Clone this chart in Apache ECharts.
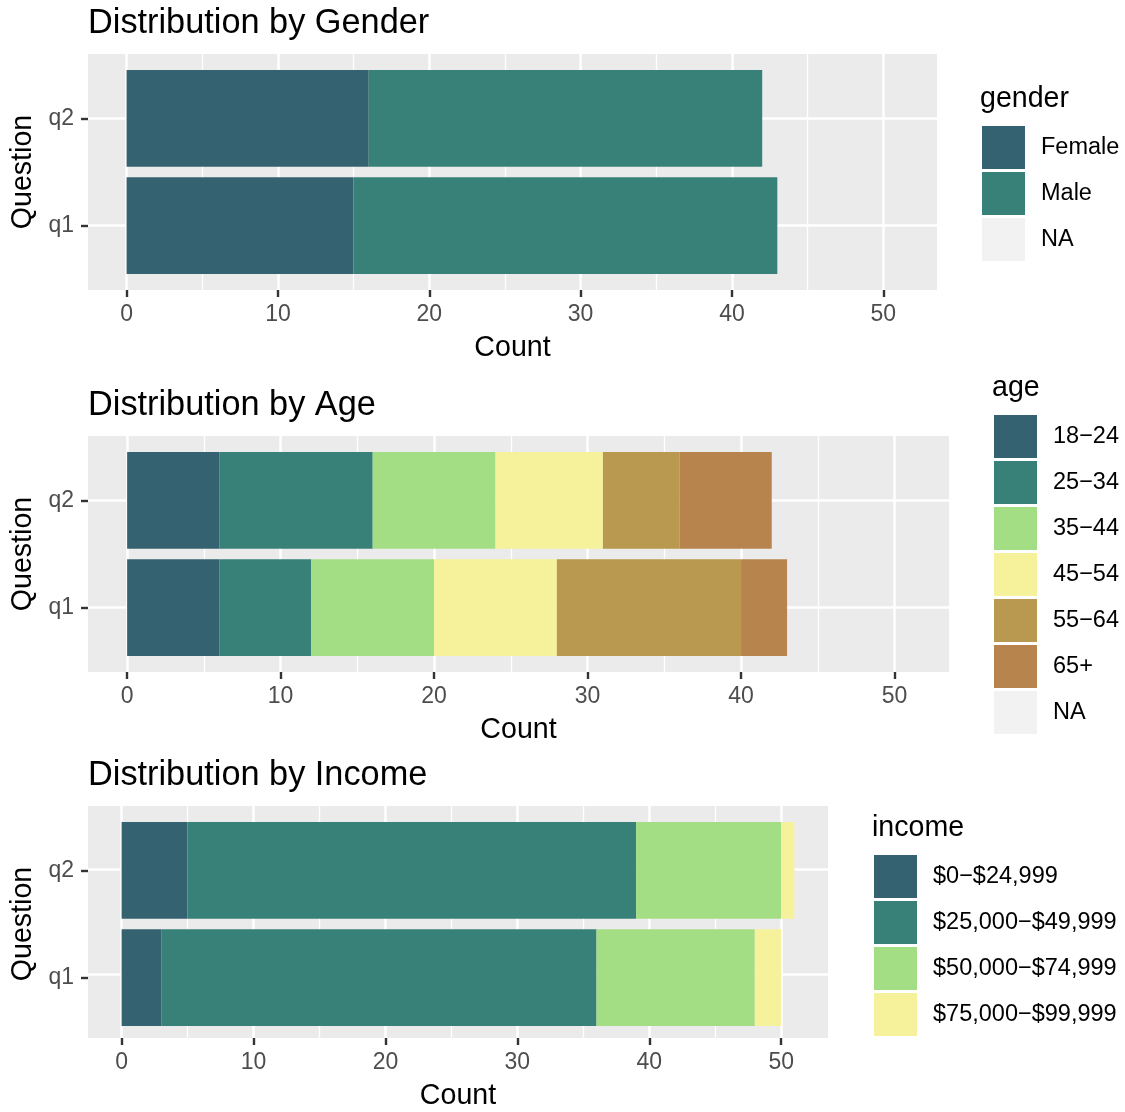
<!DOCTYPE html>
<html><head><meta charset="utf-8">
<script src="https://cdn.jsdelivr.net/npm/echarts@6/dist/echarts.min.js"></script>
<style>html,body{margin:0;padding:0;background:#fff}#c{width:1125px;height:1112px}</style>
</head><body><div id="c"></div>
<script>
// ---- data ----
const questions = ['q1', 'q2'];
const tickValues = [0, 10, 20, 30, 40, 50];
const minorValues = [5, 15, 25, 35, 45];

const genderCats = ['Female', 'Male'];
const genderFemale = [15, 16];
const genderMale = [28, 26];

const ageCats = ['18−24', '25−34', '35−44', '45−54', '55−64', '65+'];
const age18_24 = [6, 6];
const age25_34 = [6, 10];
const age35_44 = [8, 8];
const age45_54 = [8, 7];
const age55_64 = [12, 5];
const age65plus = [3, 6];

const incomeCats = ['$0−$24,999', '$25,000−$49,999', '$50,000−$74,999', '$75,000−$99,999'];
const income0_25 = [3, 5];
const income25_50 = [33, 34];
const income50_75 = [12, 11];
const income75_100 = [2, 1];

const panelTitles = ['Distribution by Gender', 'Distribution by Age', 'Distribution by Income'];
const legendTitles = ['gender', 'age', 'income'];

// ---- styling ----
const FONT = '"Liberation Sans", Arial, Helvetica, sans-serif';
const palette = ['#346270', '#388179', '#A4DE84', '#F6F29B', '#B9994F', '#B8844E'];
const naColor = '#F2F2F2';

const panels = [
  { cats: genderCats, vals: [genderFemale, genderMale], showNA: true,
    grid: { left: 88, top: 54, width: 849, height: 236 },
    legend: { left: 982, top: 126 }, legendTitle: { left: 980, top: 85 } },
  { cats: ageCats, vals: [age18_24, age25_34, age35_44, age45_54, age55_64, age65plus], showNA: true,
    grid: { left: 88, top: 436, width: 861, height: 236 },
    legend: { left: 994, top: 415 }, legendTitle: { left: 992, top: 374 } },
  { cats: incomeCats, vals: [income0_25, income25_50, income50_75, income75_100], showNA: false,
    grid: { left: 88, top: 806, width: 740, height: 236 },
    legend: { left: 874, top: 855 }, legendTitle: { left: 872, top: 814 } }
];

// common x range (ggplot 5% expansion of 0..max total)
let maxTotal = 0;
panels.forEach(p => questions.forEach((q, qi) => {
  let s = 0; p.vals.forEach(v => s += v[qi]); maxTotal = Math.max(maxTotal, s);
}));
const xMin = -0.05 * maxTotal, xMax = maxTotal * 1.05;
// discrete y: categories at 1..n, panel spans 0.4 .. n+0.6
const yLo = 0.4, yHi = questions.length + 0.6;

const grids = [], xAxes = [], yAxes = [], series = [], legends = [], titles = [];

panels.forEach((p, i) => {
  const g = p.grid;
  const bgIdx = 2 * i, dIdx = 2 * i + 1;
  // background panel grid (full panel area)
  grids.push({ show: true, backgroundColor: '#EBEBEB', borderWidth: 0, left: g.left, top: g.top, width: g.width, height: g.height });
  // data grid, inset so category bands match ggplot's 0.6 expansion
  const span = yHi - yLo;
  const inset = g.height * (0.5 - (yLo - 0)) / span; // (1-0.5) - 0.4 = 0.1 units
  grids.push({ show: false, left: g.left, top: g.top + inset, width: g.width, height: g.height - 2 * inset });

  xAxes.push({
    type: 'value', gridIndex: bgIdx, min: xMin, max: xMax,
    name: 'Count', nameLocation: 'middle', nameGap: 44,
    nameTextStyle: { fontFamily: FONT, fontSize: 28.6, color: '#000' },
    axisLine: { show: false },
    axisTick: { show: true, customValues: tickValues, length: 7, lineStyle: { color: '#333333', width: 2.4 } },
    axisLabel: { customValues: tickValues, margin: 13, fontFamily: FONT, fontSize: 23, color: '#4D4D4D' },
    splitLine: { show: false }
  });
  yAxes.push({ type: 'value', gridIndex: bgIdx, min: yLo, max: yHi, show: false, splitLine: { show: false } });

  xAxes.push({ type: 'value', gridIndex: dIdx, min: xMin, max: xMax, show: false, splitLine: { show: false } });
  yAxes.push({
    type: 'category', gridIndex: dIdx, data: questions,
    name: 'Question', nameLocation: 'middle', nameGap: 48, nameRotate: 90,
    nameTextStyle: { fontFamily: FONT, fontSize: 28.6, color: '#000' },
    axisLine: { show: false, onZero: false },
    axisTick: { show: true, alignWithLabel: true, length: 7, lineStyle: { color: '#333333', width: 2.4 } },
    axisLabel: { margin: 14, fontFamily: FONT, fontSize: 23, color: '#4D4D4D' },
    splitLine: { show: false }
  });

  p.cats.forEach((c, k) => {
    series.push({
      type: 'bar', name: c, xAxisIndex: dIdx, yAxisIndex: dIdx, stack: 'p' + i,
      data: p.vals[k], barWidth: '90%', z: 3,
      itemStyle: { color: palette[k] }, silent: true, animation: false
    });
  });
  series.push({
    type: 'bar', name: 'NA', xAxisIndex: dIdx, yAxisIndex: dIdx, stack: 'p' + i, data: [], z: 3,
    itemStyle: { color: naColor }, silent: true, animation: false
  });

  const gridLines = [];
  tickValues.forEach(v => gridLines.push({ xAxis: v, lineStyle: { width: 2.5, color: '#fff', type: 'solid' } }));
  minorValues.forEach(v => gridLines.push({ xAxis: v, lineStyle: { width: 1.3, color: '#fff', type: 'solid' } }));
  questions.forEach((q, qi) => gridLines.push({ yAxis: qi + 1, lineStyle: { width: 2.5, color: '#fff', type: 'solid' } }));
  series.push({
    type: 'line', name: 'grid' + i, xAxisIndex: bgIdx, yAxisIndex: bgIdx, data: [], z: 1,
    silent: true, animation: false, showSymbol: false,
    markLine: { silent: true, symbol: 'none', z: 1, animation: false, label: { show: false },
      emphasis: { disabled: true }, data: gridLines }
  });

  legends.push(Object.assign({
    orient: 'vertical', padding: 0, itemWidth: 43, itemHeight: 43, itemGap: 3, icon: 'rect',
    selectedMode: false, data: p.showNA ? p.cats.concat(['NA']) : p.cats.slice(),
    textStyle: { fontFamily: FONT, fontSize: 23.5, color: '#000', padding: [0, 0, 0, 11] }
  }, p.legend));
  titles.push({ text: panelTitles[i], left: 88, top: g.top - 47, padding: 0,
    textStyle: { fontFamily: FONT, fontSize: 34.3, fontWeight: 'normal', color: '#000' } });
  titles.push(Object.assign({ text: legendTitles[i], padding: 0,
    textStyle: { fontFamily: FONT, fontSize: 28.6, fontWeight: 'normal', color: '#000' } }, p.legendTitle));
});

const chart = echarts.init(document.getElementById('c'), null, { renderer: 'canvas' });
chart.setOption({
  animation: false,
  backgroundColor: '#fff',
  title: titles, grid: grids, xAxis: xAxes, yAxis: yAxes, legend: legends, series: series
});
</script></body></html>
